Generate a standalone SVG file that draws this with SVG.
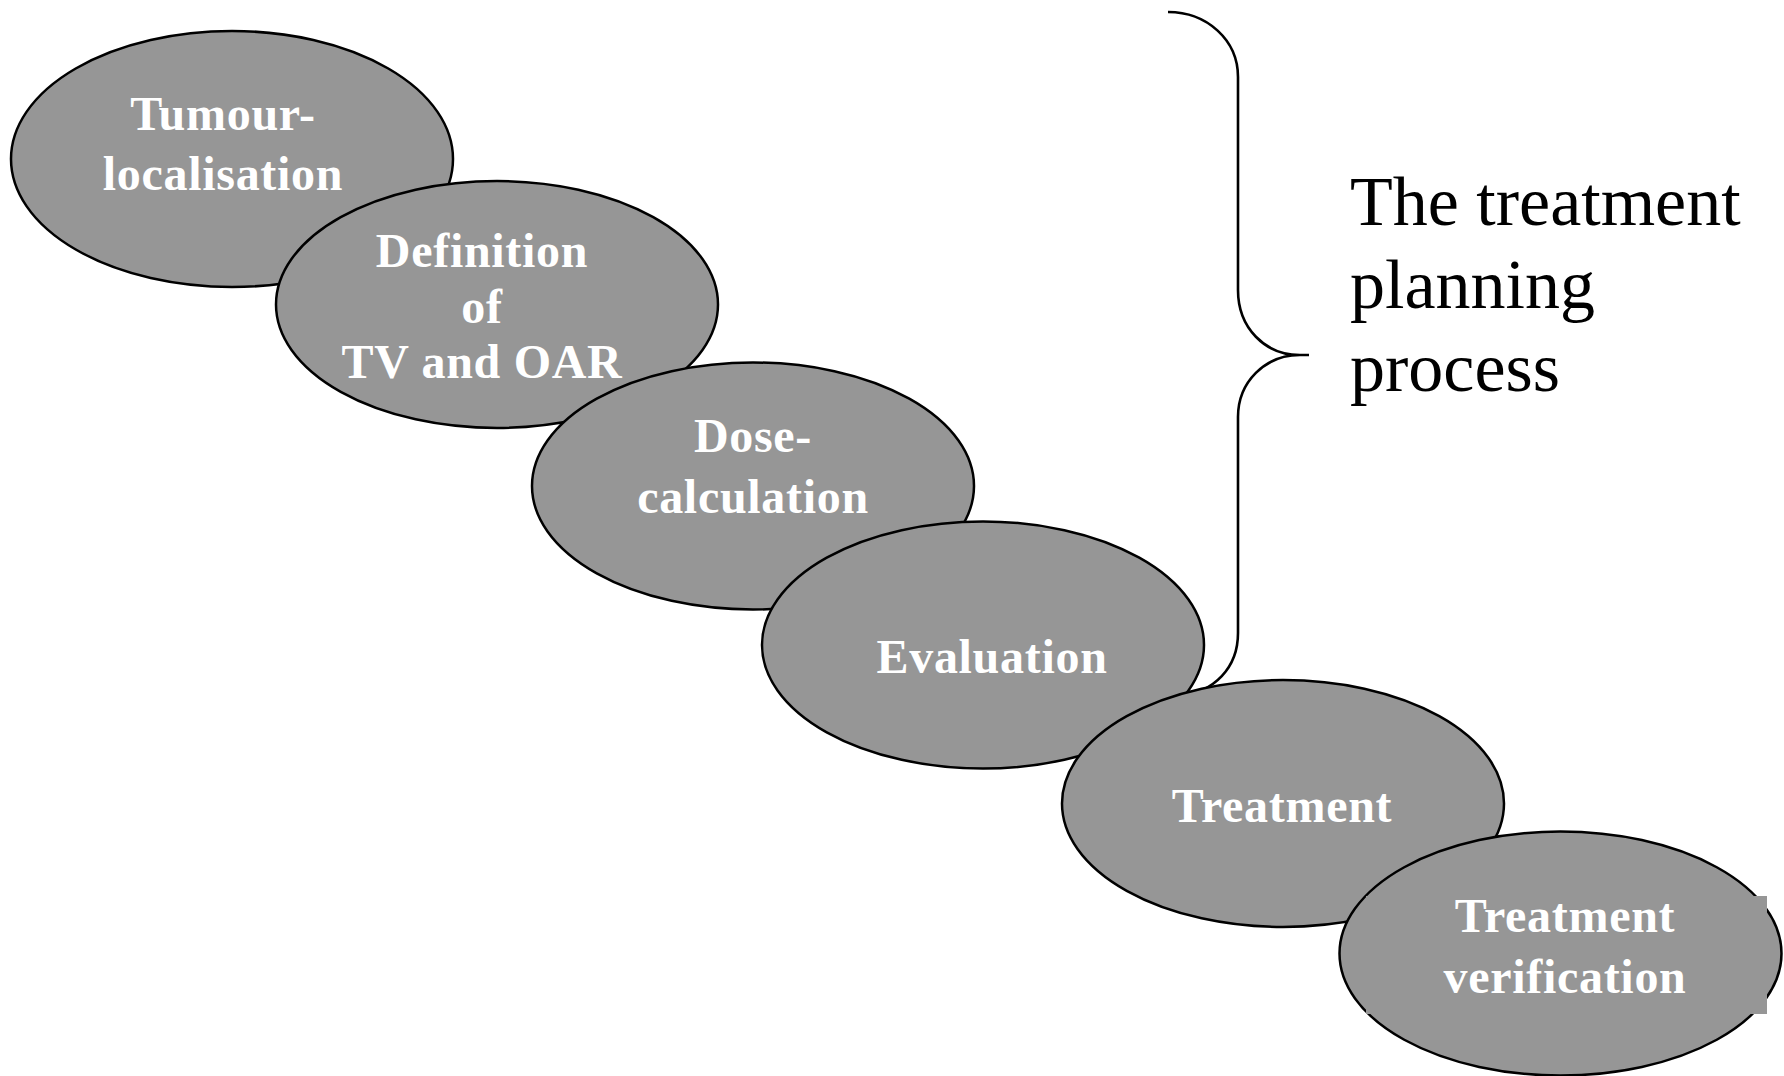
<svg xmlns="http://www.w3.org/2000/svg" width="1784" height="1076" viewBox="0 0 1784 1076">
<style>
.node{fill:#969696;stroke:#000;stroke-width:2.5}
.box{fill:#969696;stroke:none}
.lbl{font-family:"Liberation Serif","Times New Roman",serif;font-weight:bold;font-size:48px;fill:#fff;text-anchor:middle;letter-spacing:0.7px}
.brace{fill:none;stroke:#000;stroke-width:2.6;stroke-linecap:butt}
.note{font-family:"Liberation Serif","Times New Roman",serif;font-size:70px;fill:#000}
</style>
<rect width="1784" height="1076" fill="#fff"/>
<g id="connectors">
<path class="brace" d="M1168,12 C1207,12 1238,40 1238,77 L1238,290 C1238,328 1265,355 1300,355 L1309,355 M1300,355 C1265,355 1238,382 1238,417 L1238,633 C1238,668 1214,692 1180,696"/>
</g>
<g id="node-tumour">
<ellipse class="node" cx="232" cy="159" rx="221" ry="128"/>
<text class="lbl" x="223" y="130">Tumour-</text>
<text class="lbl" x="223" y="190">localisation</text>
</g>
<g id="node-definition">
<ellipse class="node" cx="497" cy="304.5" rx="221" ry="123.5"/>
<text class="lbl" x="482" y="267">Definition</text>
<text class="lbl" x="482" y="323">of</text>
<text class="lbl" x="482" y="378">TV and OAR</text>
</g>
<g id="node-dose">
<ellipse class="node" cx="753" cy="486" rx="221" ry="123.5"/>
<text class="lbl" x="753" y="452">Dose-</text>
<text class="lbl" x="753" y="513">calculation</text>
</g>
<g id="node-evaluation">
<ellipse class="node" cx="983" cy="645" rx="221" ry="123.5"/>
<text class="lbl" x="992" y="673">Evaluation</text>
</g>
<g id="node-treatment">
<ellipse class="node" cx="1283" cy="803.5" rx="221" ry="123.5"/>
<text class="lbl" x="1282" y="822">Treatment</text>
</g>
<g id="node-verification">
<ellipse class="node" cx="1560.5" cy="953.5" rx="221" ry="122"/>
<rect class="box" x="1366" y="896" width="401" height="118"/>
<text class="lbl" x="1565" y="932">Treatment</text>
<text class="lbl" x="1565" y="993">verification</text>
</g>
<g id="label-process">
<text class="note" x="1350" y="225">The treatment</text>
<text class="note" x="1350" y="308">planning</text>
<text class="note" x="1350" y="391">process</text>
</g>
</svg>
